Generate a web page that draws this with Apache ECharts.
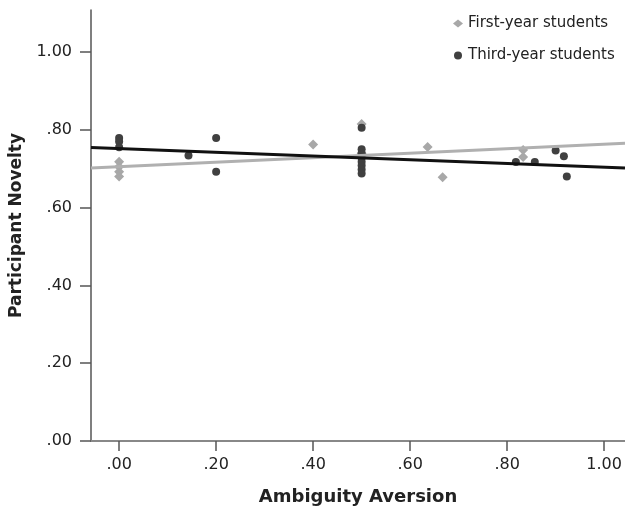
<!DOCTYPE html>
<html>
<head>
<meta charset="utf-8">
<script src="https://cdn.jsdelivr.net/npm/echarts@6/dist/echarts.min.js"></script>
<style>
  html, body { margin: 0; padding: 0; background: #fff; }
  #my_chart { width: 625px; height: 511px; }
</style>
</head>
<body>
<div id="my_chart"></div>
<script>
// values
var firstX = [0, 0, 0, 0, 0.40, 0.50, 0.50, 0.636, 0.667, 0.833, 0.833];
var firstY = [0.718, 0.705, 0.692, 0.680, 0.762, 0.815, 0.740, 0.756, 0.678, 0.748, 0.730];

var thirdX = [0, 0, 0, 0.143, 0.20, 0.20, 0.50, 0.50, 0.50, 0.50, 0.50, 0.50, 0.50, 0.50, 0.818, 0.857, 0.90, 0.917, 0.923];
var thirdY = [0.779, 0.770, 0.755, 0.734, 0.779, 0.692, 0.805, 0.750, 0.740, 0.728, 0.718, 0.708, 0.698, 0.688, 0.717, 0.717, 0.747, 0.732, 0.680];

// fit lines: [intercept, slope]
var firstFit = [0.705, 0.058];
var thirdFit = [0.752, -0.048];

var xTicks = [0, 0.2, 0.4, 0.6, 0.8, 1.0];
var yTicks = [0, 0.2, 0.4, 0.6, 0.8, 1.0];

var xMin = -0.058, xMax = 1.043;
var yMin = 0, yMax = 1.108;

function pairs(xs, ys) {
    var out = [];
    for (var i = 0; i < xs.length; i++) out.push([xs[i], ys[i]]);
    return out;
}
function fitLine(fit) {
    return [[xMin, fit[0] + fit[1] * xMin], [xMax, fit[0] + fit[1] * xMax]];
}
function fmt(v) {
    return v.toFixed(2).replace(/^0/, '');
}

var myChart = echarts.init(document.getElementById('my_chart'));
var font = 'DejaVu Sans';

var option = {
    animation: false,
    backgroundColor: '#fff',
    textStyle: { fontFamily: font },
    grid: { left: 91, right: 0, top: 10, bottom: 69 },
    legend: {
        data: ['First-year students', 'Third-year students'],
        orient: 'vertical',
        left: 448,
        top: 11,
        itemGap: 17,
        itemWidth: 10,
        itemHeight: 8,
        textStyle: { fontFamily: font, fontSize: 15, color: '#222' }
    },
    xAxis: [{
        type: 'value',
        min: xMin,
        max: xMax,
        name: 'Ambiguity Aversion',
        nameLocation: 'middle',
        nameGap: 47,
        nameTextStyle: { fontFamily: font, fontSize: 18, fontWeight: 'bold', color: '#222' },
        axisLine: { onZero: false, lineStyle: { color: '#555', width: 1.5 } },
        axisTick: { show: true, length: 10, customValues: xTicks, lineStyle: { color: '#555', width: 1.5 } },
        axisLabel: { customValues: xTicks, formatter: fmt, margin: 16, fontSize: 16, color: '#222', fontFamily: font },
        splitLine: { show: false }
    }, {
        type: 'value',
        position: 'top',
        min: xMin,
        max: xMax,
        axisLine: { show: true, lineStyle: { color: '#888', width: 2 } },
        axisTick: { show: false },
        axisLabel: { show: false },
        splitLine: { show: false }
    }],
    yAxis: {
        type: 'value',
        min: yMin,
        max: yMax,
        name: 'Participant Novelty',
        nameLocation: 'middle',
        nameGap: 62,
        nameTextStyle: { fontFamily: font, fontSize: 17, fontWeight: 'bold', color: '#222' },
        axisLine: { show: true, onZero: false, lineStyle: { color: '#555', width: 1.5 } },
        axisTick: { show: true, length: 11, customValues: yTicks, lineStyle: { color: '#555', width: 1.5 } },
        axisLabel: { customValues: yTicks, formatter: fmt, margin: 19, fontSize: 16, color: '#222', fontFamily: font },
        splitLine: { show: false }
    },
    series: [{
        name: 'First-year students',
        type: 'scatter',
        symbol: 'diamond',
        symbolSize: 10,
        itemStyle: { color: '#a8a8a8', opacity: 1 },
        data: pairs(firstX, firstY),
        z: 2
    }, {
        name: 'Third-year students',
        type: 'scatter',
        symbol: 'circle',
        symbolSize: 8,
        itemStyle: { color: '#404040', opacity: 1 },
        data: pairs(thirdX, thirdY),
        z: 2
    }, {
        name: 'fit1',
        type: 'line',
        data: fitLine(firstFit),
        symbol: 'none',
        lineStyle: { color: '#b0b0b0', width: 3 },
        silent: true,
        z: 3
    }, {
        name: 'fit3',
        type: 'line',
        data: fitLine(thirdFit),
        symbol: 'none',
        lineStyle: { color: '#111', width: 3 },
        silent: true,
        z: 4
    }]
};
myChart.setOption(option);
</script>
</body>
</html>
